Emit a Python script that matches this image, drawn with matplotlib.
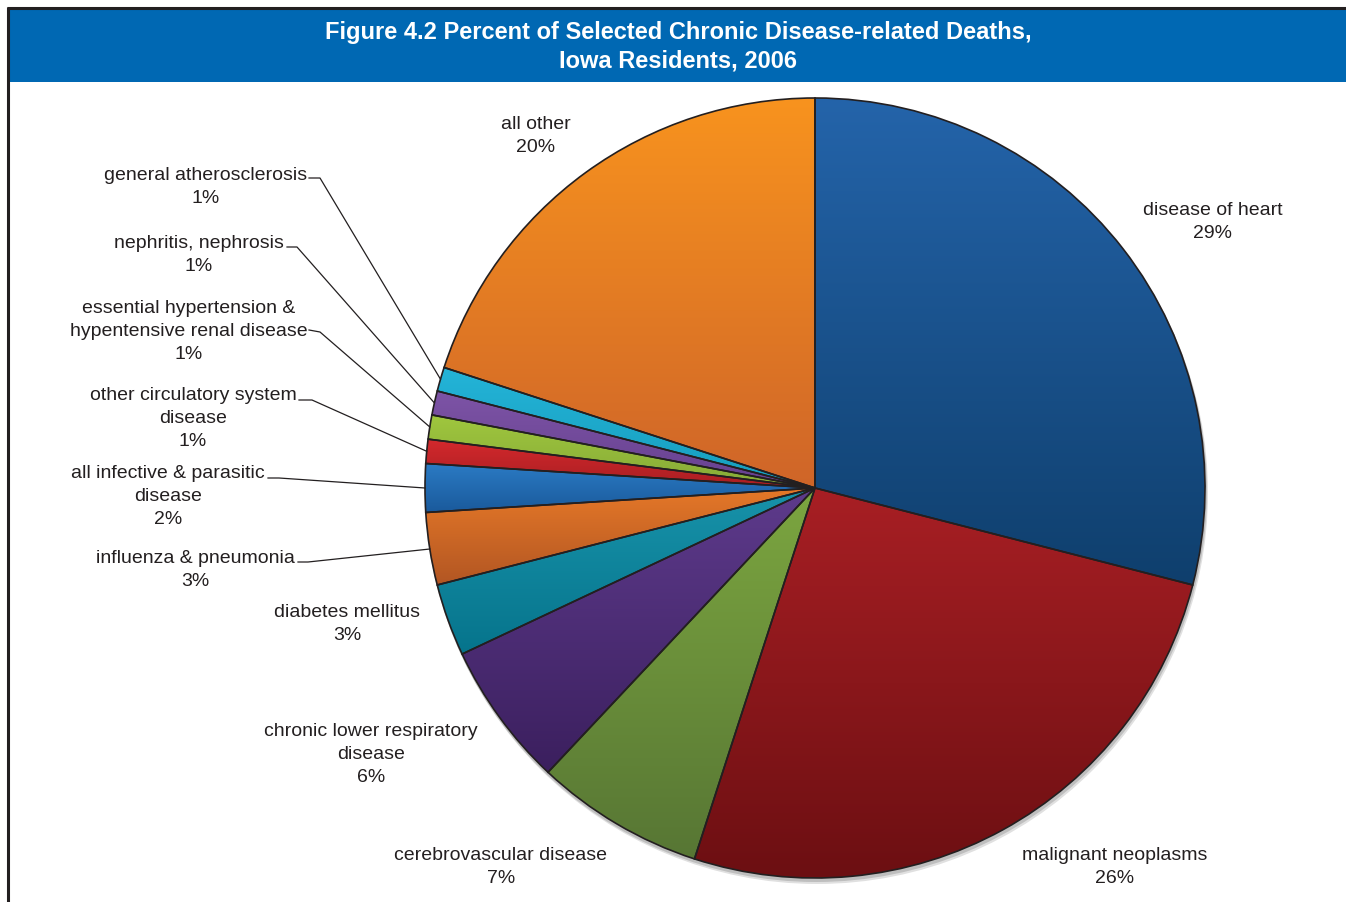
"""
Percent of selected chronic disease-related deaths, Iowa residents, 2006
"""

import numpy as np
import matplotlib.pyplot as plt
from matplotlib.colors import to_rgb
from matplotlib.patches import Circle, Rectangle

plt.rcParams["font.family"] = ["Liberation Sans", "DejaVu Sans"]

# 資料
causes = [
    "disease of heart",
    "malignant neoplasms",
    "cerebrovascular disease",
    "chronic lower respiratory\ndisease",
    "diabetes mellitus",
    "influenza & pneumonia",
    "all infective & parasitic\ndisease",
    "other circulatory system\ndisease",
    "essential hypertension &\nhypentensive renal disease",
    "nephritis, nephrosis",
    "general atherosclerosis",
    "all other",
]
percents = [29, 26, 7, 6, 3, 3, 2, 1, 1, 1, 1, 20]

# 每個扇形的漸層色 (上 -> 下)
grad_top = ["#2464aa", "#a81f24", "#7ca640", "#5e3b8c", "#1893aa", "#e57828",
            "#2b7bc4", "#d4292d", "#a0c73e", "#7d54a6", "#24b4d8", "#f8931e"]
grad_bottom = ["#0f3f6d", "#6c0f12", "#577634", "#3b1f5e", "#06748c", "#b25623",
               "#1a5a9c", "#a81e22", "#86aa37", "#66408f", "#169dbd", "#cf6529"]

EDGE = "#231f20"
TEXT = "#231f20"
W, H = 1346, 902
cx, cy, r = 815, H - 488, 390
LINE_PX = 22.7

# 標籤第一行位置 (像素, 由上往下)
label_pos = {
    0: (1213, 208), 1: (1115, 853), 2: (501, 853), 3: (371, 729),
    4: (347, 610), 5: (195, 556), 6: (168, 471), 7: (193, 393),
    8: (189, 306), 9: (199, 241), 10: (206, 173), 11: (536, 122),
}
# 引線: 文字右端 -> 轉折點
leader = {
    5: ((298, 562), (308, 562)),
    6: ((268, 478), (279, 478)),
    7: ((299, 400), (312, 400)),
    8: ((309, 330), (320, 332)),
    9: ((287, 247), (297, 247)),
    10: ((309, 178), (320, 178)),
}

fig = plt.figure(figsize=(W / 100, H / 100), dpi=100)
ax = fig.add_axes([0, 0, 1, 1])

# 陰影
ax.add_patch(Circle((cx + 2, cy - 5), r + 1, color="#000000", alpha=0.12, lw=0, zorder=0))
ax.add_patch(Circle((cx + 1, cy - 3), r + 1, color="#000000", alpha=0.15, lw=0, zorder=0))

wedges, _ = ax.pie(
    percents,
    startangle=90,
    counterclock=False,
    center=(cx, cy),
    radius=r,
    colors=["none"] * len(percents),
    wedgeprops=dict(edgecolor=EDGE, linewidth=1.2, zorder=3),
)

# 扇形漸層填色
for w, c0, c1 in zip(wedges, grad_top, grad_bottom):
    w.set_facecolor("none")
    ang = np.radians(np.linspace(w.theta1, w.theta2, 200))
    xs = np.concatenate([[cx], cx + r * np.cos(ang)])
    ys = np.concatenate([[cy], cy + r * np.sin(ang)])
    t = np.linspace(0, 1, 256)[:, None]
    grad = (1 - t) * np.array(to_rgb(c1)) + t * np.array(to_rgb(c0))
    im = ax.imshow(grad[:, None, :], extent=(xs.min(), xs.max(), ys.min(), ys.max()),
                   origin="lower", aspect="auto", interpolation="bilinear", zorder=2)
    im.set_clip_path(w)

# 標籤與百分比
for i, (name, pct) in enumerate(zip(causes, percents)):
    x, y = label_pos[i]
    n_lines = name.count("\n") + 2
    yc = y + 3 + (n_lines - 1) * LINE_PX / 2
    ax.text(x, H - yc, f"{name}\n{pct}%", ha="center", va="center", fontsize=14,
            color=TEXT, linespacing=1.45)

# 引線
wedge_mid = {}
for i, w in enumerate(wedges):
    mid = np.radians((w.theta1 + w.theta2) / 2)
    wedge_mid[i] = (cx + r * np.cos(mid), cy + r * np.sin(mid))
for i, (p0, p1) in leader.items():
    ex, ey = wedge_mid[i]
    ax.plot([p0[0], p1[0], ex], [H - p0[1], H - p1[1], ey], color=EDGE, lw=0.9, zorder=4)

ax.set_xlim(0, W)
ax.set_ylim(0, H)
ax.axis("off")

# 標題列與外框
ax.add_patch(Rectangle((9, H - 82), W - 9, 73, color="#0068b3", lw=0, zorder=5))
ax.plot([7, W], [H - 8, H - 8], color="#231f20", lw=2.2, zorder=6, solid_capstyle="butt")
ax.plot([8, 8], [0, H - 7], color="#231f20", lw=2.2, zorder=6, solid_capstyle="butt")
ax.text(678, H - 46.5, "Figure 4.2 Percent of Selected Chronic Disease-related Deaths,\nIowa Residents, 2006",
        ha="center", va="center", color="white", fontsize=17, fontweight="bold",
        linespacing=1.3, zorder=7)

fig.savefig("out.png", dpi=100)
plt.close(fig)
